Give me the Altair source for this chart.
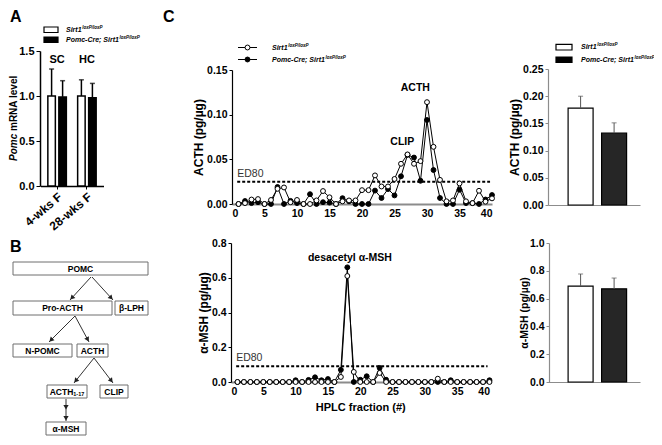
import math
import altair as alt
import pandas as pd

W, H, M = 646, 429, 8
FONT = "Liberation Sans"

# ---------------- data ----------------
genotypes = ["Sirt1 loxP/loxP", "Pomc-Cre; Sirt1 loxP/loxP"]
legend_main = ["Sirt1", "Pomc-Cre; Sirt1"]
legend_sup = "loxP/loxP"

ages = ["4-wks F", "28-wks F"]
diet_labels = ["SC", "HC"]
pomc_mean = [1.00, 0.99, 1.00, 0.98]
pomc_sem = [0.30, 0.18, 0.18, 0.16]

fractions = list(range(1, 41))
acth_flox = [0, 0.001, 0.005, 0.0055, 0, 0.0045, 0.017, 0.0185, 0.002, 0.0045,
             0, 0, 0.004, 0.0145, 0.0075, 0, 0.003, 0.004, 0.004, 0.0155,
             0.0155, 0.032, 0.0196, 0.0196, 0.028, 0.045, 0.0555, 0.045, 0.048, 0.114,
             0.064, 0.027, 0.003, 0.004, 0.023, 0.003, 0.001, 0.0148, 0.0026, 0.0063]
acth_cre = [0, 0.0033, 0.001, 0.002, 0, 0, 0.019, 0, 0.0035, 0.001,
            0, 0.011, 0, 0.002, 0.0015, 0, 0.0065, 0.003, 0, 0,
            0, 0.015, 0.0067, 0.0167, 0.0096, 0.031, 0.055, 0.052, 0.026, 0.094,
            0.038, 0.0067, 0, 0, 0.016, 0.001, 0.001, 0, 0.005, 0.01]
amsh_flox = [0, 0, 0, 0, 0, 0, 0, 0, 0, 0,
             0, 0, 0, 0, 0, 0, 0.029, 0.61, 0.058, 0,
             0, 0, 0.052, 0, 0, 0, 0, 0, 0, 0,
             0, 0.019, 0, 0, 0, 0, 0, 0, 0, 0]
amsh_cre = [0, 0, 0, 0, 0, 0, 0, 0, 0, 0.01,
            0, 0.012, 0.027, 0.01, 0.017, 0, 0.07, 0.66, 0, 0.013,
            0.033, 0, 0.081, 0.013, 0, 0, 0, 0, 0, 0,
            0, 0, 0, 0.01, 0, 0, 0, 0, 0, 0.01]
acth_ed80 = 0.025
amsh_ed80 = 0.09

acth_total_mean = [0.178, 0.132]
acth_total_sem = [0.022, 0.019]
amsh_total_mean = [0.69, 0.67]
amsh_total_sem = [0.087, 0.078]

flow_labels = ["POMC", "Pro-ACTH", "\u03b2-LPH", "N-POMC", "ACTH", "ACTH", "CLIP", "\u03b1-MSH"]

# ---------------- layout (pixel positions in the page) ----------------
def P(v):
    return v - M

AX = dict(grid=False, labelFont=FONT, labelFontWeight="bold", labelColor="black",
          titleFont=FONT, titleFontWeight="bold", titleColor="black")

# ===== Panel A =====
dfA = pd.DataFrame({"age": [a for a in ages for _ in genotypes],
                    "geno": genotypes * len(ages),
                    "mean": pomc_mean, "sem": pomc_sem})
dfA["upper"] = dfA["mean"] + dfA["sem"]
dfA_lab = pd.DataFrame({"age": ages, "diet": diet_labels, "y": [1.40, 1.40]})

sxA = alt.Scale(range=[P(40.5), P(103.5)], paddingInner=0, paddingOuter=0.057)
soA = alt.Scale(paddingInner=0.318, paddingOuter=0.513)
syA = alt.Scale(domain=[0, 1.5], range=[P(186), P(51)], nice=False, zero=False)
fillA = alt.Scale(domain=genotypes, range=["white", "black"])

axAx = alt.Axis(orient="bottom", offset=P(186) - H, title=None, labelAngle=-40,
                labelFontSize=12, tickSize=3, tickColor="black", domainColor="black",
                domainWidth=1.5, labelPadding=2, **AX)
axAy = alt.Axis(orient="left", offset=-P(40), title=None, values=[0, 0.5, 1.0, 1.5],
                format=".1f", labelFontSize=11, tickSize=4, tickColor="black",
                domainColor="black", domainWidth=1.5, labelPadding=2, **AX)

xA = alt.X("age:N", sort=ages, scale=sxA, axis=axAx)
oA = alt.XOffset("geno:N", sort=genotypes, scale=soA)

barsA = alt.Chart(dfA).mark_bar(stroke="black", strokeWidth=1.5).encode(
    x=xA, xOffset=oA, y=alt.Y("mean:Q", scale=syA, axis=axAy),
    fill=alt.Fill("geno:N", scale=fillA, legend=None))
errA = alt.Chart(dfA).mark_rule(color="black", strokeWidth=1.5).encode(
    x=xA, xOffset=oA, y=alt.Y("mean:Q", scale=syA, axis=axAy), y2="upper:Q")
capA = alt.Chart(dfA).mark_tick(orient="horizontal", size=5, thickness=1.5, color="black").encode(
    x=xA, xOffset=oA, y=alt.Y("upper:Q", scale=syA, axis=axAy))
labA = alt.Chart(dfA_lab).mark_text(font=FONT, fontWeight="bold", fontSize=11).encode(
    x=xA, y=alt.Y("y:Q", scale=syA, axis=axAy), text="diet:N")
panelA = alt.layer(barsA, errA, capA, labA)


# ===== Panel C: HPLC profiles =====
def line_panel(flox, cre, ymax, ystep, yfmt, xpx, ypx, ytitle, ed80, ed80_text_y,
               notes, xtitle=None):
    df = pd.DataFrame({"fraction": fractions * 2, "value": flox + cre,
                       "geno": [genotypes[0]] * len(fractions) + [genotypes[1]] * len(fractions)})
    sx = alt.Scale(domain=[0, 40], range=[P(xpx[0]), P(xpx[1])], nice=False, zero=False)
    sy = alt.Scale(domain=[0, ymax], range=[P(ypx[0]), P(ypx[1])], nice=False, zero=False)
    nvals = int(round(ymax / ystep))
    x_axis = alt.Axis(orient="bottom", offset=P(ypx[0]) - H, values=list(range(0, 41, 5)),
                      ticks=False, domainColor="#8c8c8c", domainWidth=2, labelFontSize=10.5,
                      labelPadding=4, title=xtitle, titleFontSize=11, titlePadding=5, **AX)
    y_axis = alt.Axis(orient="left", offset=-P(xpx[0]), values=[round(i * ystep, 3) for i in range(nvals + 1)],
                      format=yfmt, tickSize=3, tickColor="black", domainColor="black",
                      domainWidth=1.2, labelFontSize=10.5, labelPadding=2, title=ytitle,
                      titleFontSize=12, titlePadding=1, **AX)
    fillP = alt.Scale(domain=genotypes, range=["white", "black"])

    def XE(f):
        return alt.X(f, type="quantitative", scale=sx, axis=x_axis)

    def YE(f):
        return alt.Y(f, type="quantitative", scale=sy, axis=y_axis)

    lines = alt.Chart(df).mark_line(color="black", strokeWidth=1).encode(
        x=XE("fraction"), y=YE("value"), detail="geno:N", order=alt.Order("fraction:Q"))
    pts_cre = alt.Chart(df[df.geno == genotypes[1]]).mark_point(
        filled=False, shape="circle", size=24, stroke="black", strokeWidth=1, opacity=1).encode(
        x=XE("fraction"), y=YE("value"), fill=alt.Fill("geno:N", scale=fillP, legend=None))
    pts_flox = alt.Chart(df[df.geno == genotypes[0]]).mark_point(
        filled=False, shape="circle", size=24, stroke="black", strokeWidth=1, opacity=1).encode(
        x=XE("fraction"), y=YE("value"), fill=alt.Fill("geno:N", scale=fillP, legend=None))
    ed = pd.DataFrame({"x0": [0.8], "x1": [39.7], "y": [ed80], "ty": [ed80_text_y], "t": ["ED80"]})
    edrule = alt.Chart(ed).mark_rule(color="black", strokeWidth=2, strokeDash=[3, 2]).encode(
        x=XE("x0"), x2="x1:Q", y=YE("y"))
    edtext = alt.Chart(ed).mark_text(font=FONT, fontSize=10.5, align="left", color="#333333").encode(
        x=XE("x0"), y=YE("ty"), text="t:N")
    nd = pd.DataFrame(notes, columns=["x", "y", "t"])
    ntext = alt.Chart(nd).mark_text(font=FONT, fontSize=10.5, fontWeight="bold").encode(
        x=XE("x"), y=YE("y"), text="t:N")
    return alt.layer(lines, edrule, pts_cre, pts_flox, edtext, ntext)


panelC1 = line_panel(acth_flox, acth_cre, 0.15, 0.05, ".2f", (232, 492), (204, 70),
                     "ACTH (pg/\u00b5g)", acth_ed80, 0.0335,
                     [(28.2, 0.130, "ACTH"), (26.2, 0.069, "CLIP")])
panelC2 = line_panel(amsh_flox, amsh_cre, 0.8, 0.2, ".1f", (231, 489.5), (382, 243),
                     "\u03b1-MSH (pg/\u00b5g)", amsh_ed80, 0.138,
                     [(18.4, 0.715, "desacetyl \u03b1-MSH")], xtitle="HPLC fraction (#)")


# ===== Panel C: total content bars =====
def total_panel(means, sems, ymax, ystep, yfmt, ypx, axis_x, ytitle, tsize, tpad):
    df = pd.DataFrame({"geno": genotypes, "mean": means,
                       "upper": [m + s for m, s in zip(means, sems)]})
    sx = alt.Scale(domain=genotypes, range=[P(548), P(640)], paddingInner=0.254,
                   paddingOuter=0.5, align=0.6)
    sy = alt.Scale(domain=[0, ymax], range=[P(ypx[0]), P(ypx[1])], nice=False, zero=False)
    nvals = int(round(ymax / ystep))
    x_axis = alt.Axis(orient="bottom", offset=P(ypx[0]) - H, labels=False, ticks=False,
                      title=None, domainColor="#8c8c8c", domainWidth=1.2, **AX)
    y_axis = alt.Axis(orient="left", offset=-P(axis_x), values=[round(i * ystep, 3) for i in range(nvals + 1)],
                      format=yfmt, tickSize=3, tickColor="#8c8c8c", domainColor="#8c8c8c",
                      domainWidth=1.2, labelFontSize=10.5, labelPadding=2, title=ytitle,
                      titleFontSize=tsize, titlePadding=tpad, **AX)
    xe = alt.X("geno:N", sort=genotypes, scale=sx, axis=x_axis)
    fillR = alt.Scale(domain=genotypes, range=["white", "#262626"])
    bars = alt.Chart(df).mark_bar(stroke="black", strokeWidth=1.2).encode(
        x=xe, y=alt.Y("mean:Q", scale=sy, axis=y_axis),
        fill=alt.Fill("geno:N", scale=fillR, legend=None))
    err = alt.Chart(df).mark_rule(color="#555555", strokeWidth=1).encode(
        x=xe, y=alt.Y("mean:Q", scale=sy, axis=y_axis), y2="upper:Q")
    cap = alt.Chart(df).mark_tick(orient="horizontal", size=5, thickness=1, color="#555555").encode(
        x=xe, y=alt.Y("upper:Q", scale=sy, axis=y_axis))
    return alt.layer(bars, err, cap)


panelR1 = total_panel(acth_total_mean, acth_total_sem, 0.25, 0.05, ".2f", (205, 69), 548,
                      "ACTH (pg/\u00b5g)", 12, 1)
panelR2 = total_panel(amsh_total_mean, amsh_total_sem, 1.0, 0.2, ".1f", (382, 243), 549,
                      "\u03b1-MSH (pg/\u00b5g)", 10.5, 0)

# ===== Canvas: letters, legends, flow chart, rotated title =====
cx = alt.Scale(domain=[M, M + W], range=[0, W], nice=False, zero=False)
cy = alt.Scale(domain=[M, M + H], range=[0, H], nice=False, zero=False)

AW = {' ': 278, '-': 333, '/': 278, ';': 333, '1': 556, 'A': 722, 'C': 722, 'H': 722,
      'M': 833, 'N': 722, 'O': 778, 'P': 667, 'R': 722, 'S': 667, 'T': 611, 'L': 611,
      'c': 556, 'e': 556, 'i': 278, 'l': 278, 'm': 889, 'o': 611, 'r': 389, 't': 333,
      'x': 556, 'v': 556, 'a': 556, 'n': 611}


def tw(s, size):
    return sum(AW.get(ch, 556) for ch in s) * size / 1000.0


def cX(f):
    return alt.X(f, type="quantitative", scale=cx, axis=None)


def cY(f):
    return alt.Y(f, type="quantitative", scale=cy, axis=None)


def text_layer(rows, **style):
    df = pd.DataFrame(rows, columns=["x", "y", "t"])
    return alt.Chart(df).mark_text(font=FONT, baseline="middle", **style).encode(
        x=cX("x"), y=cY("y"), text="t:N")


def rect_layer(rows, **style):
    df = pd.DataFrame(rows, columns=["x0", "x1", "y0", "y1"])
    return alt.Chart(df).mark_rect(**style).encode(x=cX("x0"), x2="x1:Q", y=cY("y0"), y2="y1:Q")


canvas_layers = []
# panel letters
canvas_layers.append(text_layer([(10, 17, "A"), (10, 247, "B"), (163, 17, "C")],
                                fontSize=16, fontWeight="bold", align="left"))

# legends
LEG_FS, SUP_FS = 7, 4.5
legend_text_rows, legend_sup_rows = [], []
for (sx0, sx1, tx, rows) in [(44, 58, 66, [(27, 32.5), (37, 42.5)]),
                             (556, 572, 581, [(44.3, 50), (57, 62.5)])]:
    canvas_layers.append(rect_layer([(sx0, sx1, rows[0][0], rows[0][1])], fill="white",
                                    stroke="black", strokeWidth=1.2))
    canvas_layers.append(rect_layer([(sx0, sx1, rows[1][0], rows[1][1])], fill="black",
                                    stroke="black", strokeWidth=1.2))
    for (r, lab) in zip(rows, legend_main):
        yc = (r[0] + r[1]) / 2
        legend_text_rows.append((tx, yc, lab))
        legend_sup_rows.append((tx + tw(lab, LEG_FS) + 0.6, yc - 2, legend_sup))
lx0, lx1, ltx, lrows = 238, 257, 272, [47.5, 59.5]
leg_line = pd.DataFrame({"x0": [lx0, lx0], "x1": [lx1, lx1], "y": lrows,
                         "xm": [(lx0 + lx1) / 2] * 2, "geno": genotypes})
canvas_layers.append(alt.Chart(leg_line).mark_rule(color="black", strokeWidth=1).encode(
    x=cX("x0"), x2="x1:Q", y=cY("y")))
canvas_layers.append(alt.Chart(leg_line).mark_point(
    shape="circle", size=24, stroke="black", strokeWidth=1, filled=False, opacity=1).encode(
    x=cX("xm"), y=cY("y"),
    fill=alt.Fill("geno:N", scale=alt.Scale(domain=genotypes, range=["white", "black"]), legend=None)))
for (yc, lab) in zip(lrows, legend_main):
    legend_text_rows.append((ltx, yc, lab))
    legend_sup_rows.append((ltx + tw(lab, LEG_FS) + 0.6, yc - 2, legend_sup))
canvas_layers.append(text_layer(legend_text_rows, fontSize=LEG_FS, fontWeight="bold",
                                fontStyle="italic", align="left"))
canvas_layers.append(text_layer(legend_sup_rows, fontSize=SUP_FS, fontWeight="bold",
                                fontStyle="italic", align="left"))

# rotated y title for panel A (Pomc in italics)
t_x, t_y0, t_fs = 14, 161, 10
canvas_layers.append(text_layer([(t_x, t_y0, "Pomc")], fontSize=t_fs, fontWeight="bold",
                                fontStyle="italic", align="left", angle=270))
canvas_layers.append(text_layer([(t_x, t_y0 - tw("Pomc ", t_fs), "mRNA level")], fontSize=t_fs,
                                fontWeight="bold", align="left", angle=270))

# flow chart (panel B)
boxes = [(13, 148, 262, 275), (13, 112, 301, 315), (115, 148, 301, 315),
         (13, 72, 344, 357), (77, 108, 344, 357), (47, 87, 385, 398),
         (100, 128, 385, 398), (46, 86, 422, 435)]
canvas_layers.append(rect_layer(boxes, fill="white", stroke="#6e6e6e", strokeWidth=1))
FL_FS = 8.5
flow_text = []
for (b, lab) in zip(boxes, flow_labels):
    if b == boxes[5]:
        continue
    flow_text.append(((b[0] + b[1]) / 2, (b[2] + b[3]) / 2, lab))
canvas_layers.append(text_layer(flow_text, fontSize=FL_FS, fontWeight="bold", align="center"))
b5 = boxes[5]
sub_fs = 5.5
full_w = tw("ACTH", FL_FS) + tw("1-17", sub_fs)
sx5 = (b5[0] + b5[1]) / 2 - full_w / 2
canvas_layers.append(text_layer([(sx5, (b5[2] + b5[3]) / 2, flow_labels[5])], fontSize=FL_FS,
                                fontWeight="bold", align="left"))
canvas_layers.append(text_layer([(sx5 + tw("ACTH", FL_FS), (b5[2] + b5[3]) / 2 + 2.5, "1-17")],
                                fontSize=sub_fs, fontWeight="bold", align="left"))

arrows = [(91, 277, 70, 300), (92, 277, 113, 300), (75, 316, 49, 342), (75, 316, 89, 342),
          (94, 358, 74, 383), (94, 358, 113, 383), (66, 399, 66, 410), (66, 410, 66, 421)]
arr_df = pd.DataFrame(arrows, columns=["x0", "y0", "x1", "y1"])
ang, hx, hy = [], [], []
for (x0, y0, x1, y1) in arrows:
    dx, dy = x1 - x0, y1 - y0
    L = math.hypot(dx, dy)
    ang.append(math.degrees(math.atan2(dx, -dy)) % 360)
    hx.append(x1 - dx / L * 2.8)
    hy.append(y1 - dy / L * 2.8)
arr_df["ang"], arr_df["hx"], arr_df["hy"] = ang, hx, hy
canvas_layers.append(alt.Chart(arr_df).mark_rule(color="#333333", strokeWidth=1).encode(
    x=cX("x0"), x2="x1:Q", y=cY("y0"), y2="y1:Q"))
canvas_layers.append(alt.Chart(arr_df).mark_point(shape="triangle-up", filled=True, size=28,
                                                  color="#222222", opacity=1).encode(
    x=cX("hx"), y=cY("hy"), angle=alt.Angle("ang:Q", scale=None)))

canvas = alt.layer(*canvas_layers)

chart = alt.layer(panelA, panelC1, panelC2, panelR1, panelR2, canvas).resolve_scale(
    x="independent", y="independent", xOffset="independent", fill="independent"
).properties(
    width=W, height=H, padding=0, autosize=alt.AutoSizeParams(type="none"),
    background="white"
).configure_view(stroke=None)

chart.save("out.html", embed_options={"renderer": "svg", "actions": False})
